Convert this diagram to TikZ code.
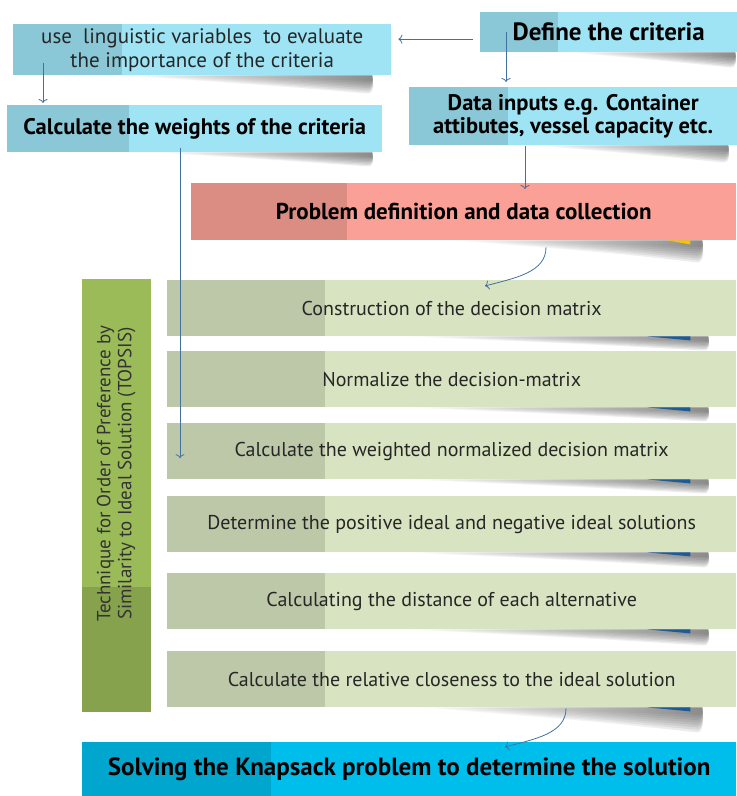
\documentclass[tikz,border=0pt]{standalone}
\usepackage{fontspec}
\setmainfont{PT Sans}
\usetikzlibrary{shapes,arrows,arrows.meta,backgrounds,positioning,fit}

\definecolor{CyanBox}{RGB}{158,228,245}
\definecolor{RedBox}{RGB}{250,160,150}
\definecolor{StepBox}{RGB}{216,228,193}
\definecolor{TopsisBox}{RGB}{155,187,89}
\definecolor{SolveBox}{RGB}{0,190,235}
\definecolor{LinkBlue}{RGB}{65,113,160}
\definecolor{EdgeBlue}{RGB}{30,90,150}
\definecolor{EdgeGold}{RGB}{255,192,0}

\newcommand{\Reg}[1]{\fontsize{#1}{24}\selectfont}
\newcommand{\Bold}[1]{\fontsize{#1}{23.5}\selectfont\bfseries}

\begin{document}
\begin{tikzpicture}[x=1pt, y=-1pt]
			\tikzstyle{Box}		= [rectangle, inner sep=0pt, anchor=north west, align=center]
			\tikzstyle{Split}	= [path picture={\fill[black, opacity=0.12] (path picture bounding box.south west) rectangle ([xshift=#1]path picture bounding box.north west);}]
			\tikzstyle{Cyan}	= [Box, fill=CyanBox]
			\tikzstyle{Step}	= [Box, fill=StepBox, Split=158pt, minimum width=569pt, minimum height=56pt, text=black!85, font=\Reg{20}]
			\tikzstyle{Link}	= [-{To[length=4pt, width=9pt]}, LinkBlue, line width=0.8pt]
			\tikzstyle{Curl}	= [left color=white, right color=black!75, opacity=0.11]

			\useasboundingbox (0,0) rectangle (737,796);

			% top block: criteria and inputs
			\node (ling) at (13,24) [Cyan, Split=109pt, minimum width=378pt, minimum height=51pt, text=black!85, font=\Reg{21}] {use\ \ linguistic variables\ \ to evaluate\\the importance of the criteria};
			\node (weights) at (7,105) [Cyan, Split=122pt, minimum width=375pt, minimum height=47pt, font=\Bold{22.5}] {Calculate the weights of the criteria};
			\node (define) at (480,12) [Cyan, Split=78pt, minimum width=257pt, minimum height=40pt, font=\Bold{25}] {Define the criteria};
			\node (data) at (409,87) [Cyan, Split=99pt, minimum width=328pt, minimum height=58pt, font=\Bold{22.5}] {Data inputs e.g. Container\\attibutes, vessel capacity etc.};
			\node (problem) at (191,183) [Box, fill=RedBox, Split=156pt, minimum width=545pt, minimum height=57pt, font=\Bold{23}] {Problem definition and data collection};

			% TOPSIS steps
			\node (topsis) at (82,279) [Box, fill=TopsisBox, minimum width=69pt, minimum height=433pt, text=black!80, font=\fontsize{19}{21}\selectfont,
				path picture={\fill[black, opacity=0.13] (path picture bounding box.south west) rectangle ([yshift=125pt]path picture bounding box.south east);}]
				{\rotatebox{90}{\begin{tabular}{@{\hspace{44pt}}c@{}}Technique for Order of Preference by\\Similarity to Ideal Solution (TOPSIS)\end{tabular}}};
			\foreach \t/\txt [count=\i] in {280/Construction of the decision matrix,
					351/Normalize the decision-matrix,
					423/Calculate the weighted normalized decision matrix,
					496/Determine the positive ideal and negative ideal solutions,
					573/Calculating the distance of each alternative,
					651/Calculate the relative closeness to the ideal solution}
				\node (s\i) at (167,\t) [Step] {\txt};

			\node (solve) at (82,742) [Box, fill=SolveBox, Split=189pt, minimum width=654pt, minimum height=54pt, font=\Bold{25}] {Solving the Knapsack problem to determine the solution};

			% curled shadows and edge slivers
			\begin{scope}[on background layer]
				\foreach \n/\a/\b/\h in {ling/274/24/18, weights/232/15/14, define/170/7/15, data/207/14/17, problem/286/39/22,
						s1/336/33/14, s2/336/33/14, s3/336/33/14, s4/336/33/15, s5/336/33/16, s6/320/39/25}
					\foreach \k in {0.3, 0.4, ..., 1}
						\shade[Curl] ([xshift=-\a pt]\n.south east) .. controls ([xshift=-0.45*\a pt, yshift=-0.55*\k*\h pt]\n.south east) .. ([xshift=-\b pt-3pt+3*\k pt, yshift=-\k*\h pt]\n.south east)
							.. controls +(7,0) and +(1,8) .. ([xshift=-\b pt+5pt]\n.south east) -- cycle;
				\foreach \n in {s1, s2, s3, s4, s5, s6}
					\fill[EdgeBlue] ([xshift=-89pt]\n.south east) -- ([xshift=-46pt]\n.south east) -- ([xshift=-46pt, yshift=-4pt]\n.south east) -- cycle;
				\fill[EdgeGold] ([xshift=-69pt]problem.south east) -- ([xshift=-46pt]problem.south east) -- ([xshift=-46pt, yshift=-4pt]problem.south east) -- cycle;
			\end{scope}

			% connectors
			\draw [Link] ([xshift=-7pt, yshift=-7pt]define.west) -- ([xshift=7pt, yshift=10.5pt]ling.east);
			\draw [Link] ([xshift=26pt, yshift=20pt]define.south west) -- ([xshift=97pt, yshift=5pt]data.north west);
			\draw [Link] ([xshift=30pt, yshift=12pt]ling.south west) -- ([xshift=36pt, yshift=2pt]weights.north west);
			\draw [Link] ([xshift=116pt, yshift=-1pt]data.south west) -- ([xshift=334pt, yshift=-6pt]problem.north west);
			\draw [Link] ([xshift=173pt, yshift=4pt]weights.south west) -- ([xshift=13pt, yshift=-7pt]s3.west);
			\draw [Link] ([xshift=355pt, yshift=-7pt]problem.south west) .. controls +(0,25) and +(30,-8) .. ([xshift=318pt, yshift=-6pt]s1.north west);
			\draw [Link] ([xshift=399pt, yshift=-1pt]s6.south west) .. controls +(0,25) and +(30,-8) .. ([xshift=423pt, yshift=-5pt]solve.north west);
		\end{tikzpicture}
\end{document}
